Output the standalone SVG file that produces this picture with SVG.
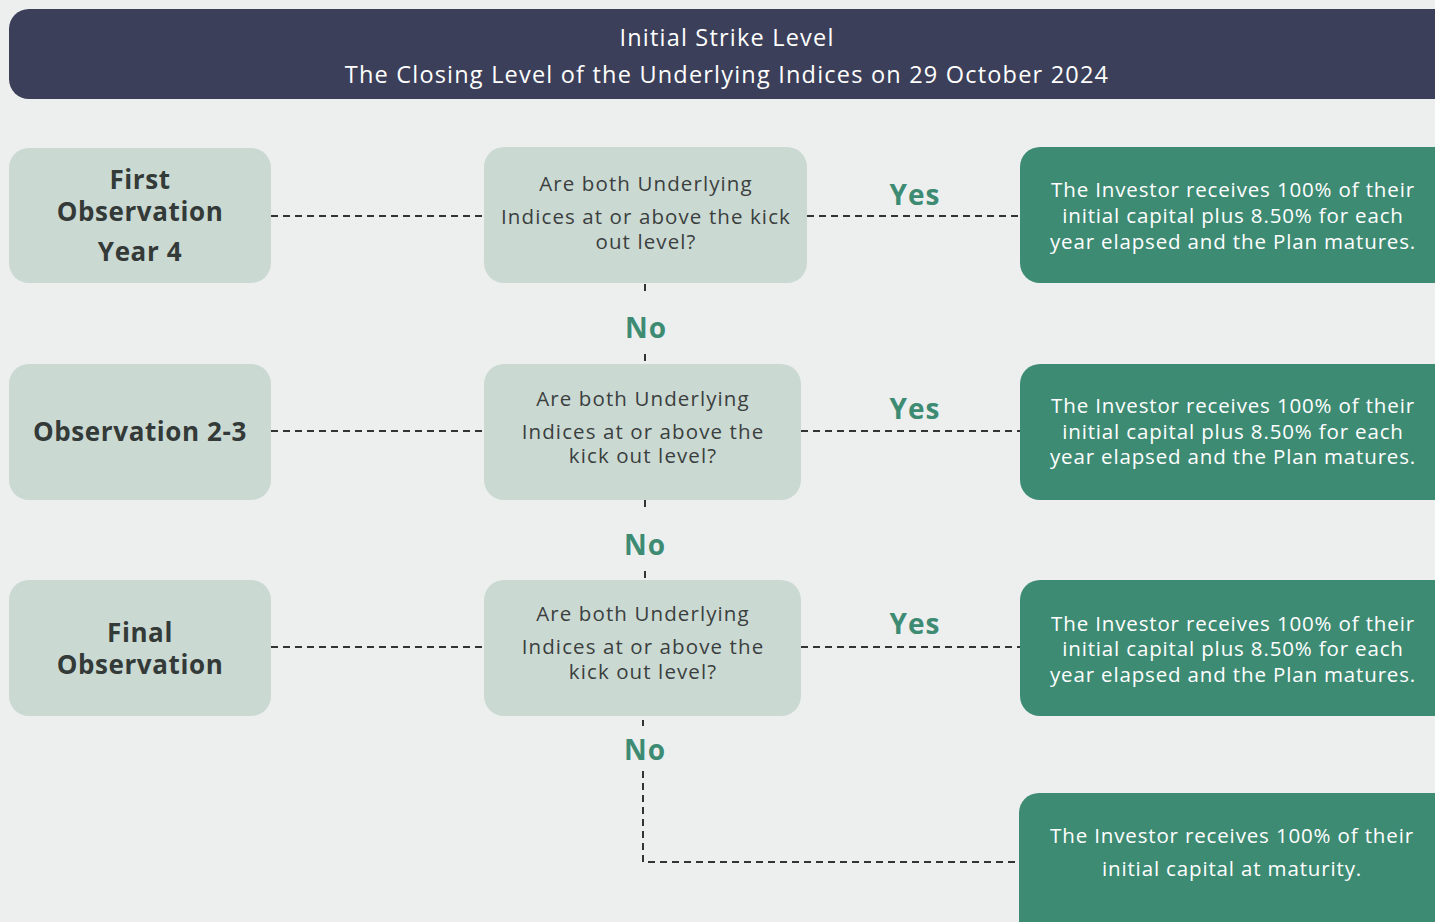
<svg xmlns="http://www.w3.org/2000/svg" width="1435" height="922" viewBox="0 0 1435 922">
<style>
.bg{fill:#edefee}
.hdr{fill:#3c3f59}
.lt{fill:#cbd9d3}
.dk{fill:#3e8b74}
.conn{fill:none;stroke:#333;stroke-width:2;stroke-dasharray:7 5}
text{font-family:"Open Sans","Liberation Sans",sans-serif;text-anchor:middle}
.ht{fill:#fff;font-size:23.5px;letter-spacing:1.2px}
.lb{fill:#333a37;font-size:26px;font-weight:700;letter-spacing:0.6px}
.q{fill:#3a3f3e;font-size:20.5px;letter-spacing:1.1px}
.r{fill:#fff;font-size:20.5px;letter-spacing:0.85px}
.yn{fill:#3e8b74;font-size:28px;font-weight:700;letter-spacing:1px}
</style>
<rect class="bg" x="0" y="0" width="1435" height="922"/>
<g id="connectors">
<line class="conn" x1="271" y1="216" x2="484" y2="216"/>
<line class="conn" x1="807" y1="216" x2="1020" y2="216"/>
<line class="conn" x1="271" y1="431" x2="484" y2="431"/>
<line class="conn" x1="801" y1="431" x2="1020" y2="431"/>
<line class="conn" x1="271" y1="647" x2="484" y2="647"/>
<line class="conn" x1="801" y1="647" x2="1020" y2="647"/>
<line class="conn" x1="645" y1="284" x2="645" y2="294"/>
<line class="conn" x1="645" y1="354" x2="645" y2="364"/>
<line class="conn" x1="645" y1="500" x2="645" y2="510"/>
<line class="conn" x1="645" y1="571" x2="645" y2="580"/>
<line class="conn" x1="643" y1="720" x2="643" y2="726"/>
<polyline class="conn" points="643,771 643,862 1020,862"/>
</g>
<g id="header">
<rect class="hdr" x="9" y="9" width="1450" height="90" rx="20"/>
<text class="ht" x="727" y="46">Initial Strike Level</text>
<text class="ht" x="727" y="83">The Closing Level of the Underlying Indices on 29 October 2024</text>
</g>
<g id="obs1">
<rect class="lt" x="9" y="148" width="262" height="135" rx="20"/>
<text class="lb" x="140" y="189">First</text>
<text class="lb" x="140" y="221">Observation</text>
<text class="lb" x="140" y="261">Year 4</text>
</g>
<g id="obs2">
<rect class="lt" x="9" y="364" width="262" height="136" rx="20"/>
<text class="lb" x="140" y="441">Observation 2-3</text>
</g>
<g id="obs3">
<rect class="lt" x="9" y="580" width="262" height="136" rx="20"/>
<text class="lb" x="140" y="642">Final</text>
<text class="lb" x="140" y="674">Observation</text>
</g>
<g id="q1">
<rect class="lt" x="484" y="147" width="323" height="136" rx="20"/>
<text class="q" x="646" y="191">Are both Underlying</text>
<text class="q" x="646" y="224">Indices at or above the kick</text>
<text class="q" x="646" y="249">out level?</text>
</g>
<g id="q2">
<rect class="lt" x="484" y="364" width="317" height="136" rx="20"/>
<text class="q" x="643" y="406">Are both Underlying</text>
<text class="q" x="643" y="439">Indices at or above the</text>
<text class="q" x="643" y="463">kick out level?</text>
</g>
<g id="q3">
<rect class="lt" x="484" y="580" width="317" height="136" rx="20"/>
<text class="q" x="643" y="621">Are both Underlying</text>
<text class="q" x="643" y="654">Indices at or above the</text>
<text class="q" x="643" y="679">kick out level?</text>
</g>
<g id="labels">
<text class="yn" x="915" y="205">Yes</text>
<text class="yn" x="915" y="419">Yes</text>
<text class="yn" x="915" y="634">Yes</text>
<text class="yn" x="646" y="338">No</text>
<text class="yn" x="645" y="555">No</text>
<text class="yn" x="645" y="760">No</text>
</g>
<g id="r1">
<rect class="dk" x="1020" y="147" width="440" height="136" rx="20"/>
<text class="r" x="1233" y="197">The Investor receives 100% of their</text>
<text class="r" x="1233" y="223">initial capital plus 8.50% for each</text>
<text class="r" x="1233" y="249">year elapsed and the Plan matures.</text>
</g>
<g id="r2">
<rect class="dk" x="1020" y="364" width="440" height="136" rx="20"/>
<text class="r" x="1233" y="413">The Investor receives 100% of their</text>
<text class="r" x="1233" y="439">initial capital plus 8.50% for each</text>
<text class="r" x="1233" y="464">year elapsed and the Plan matures.</text>
</g>
<g id="r3">
<rect class="dk" x="1020" y="580" width="440" height="136" rx="20"/>
<text class="r" x="1233" y="631">The Investor receives 100% of their</text>
<text class="r" x="1233" y="656">initial capital plus 8.50% for each</text>
<text class="r" x="1233" y="682">year elapsed and the Plan matures.</text>
</g>
<g id="r4">
<rect class="dk" x="1019" y="793" width="440" height="160" rx="20"/>
<text class="r" x="1232" y="843">The Investor receives 100% of their</text>
<text class="r" x="1232" y="876">initial capital at maturity.</text>
</g>
</svg>
